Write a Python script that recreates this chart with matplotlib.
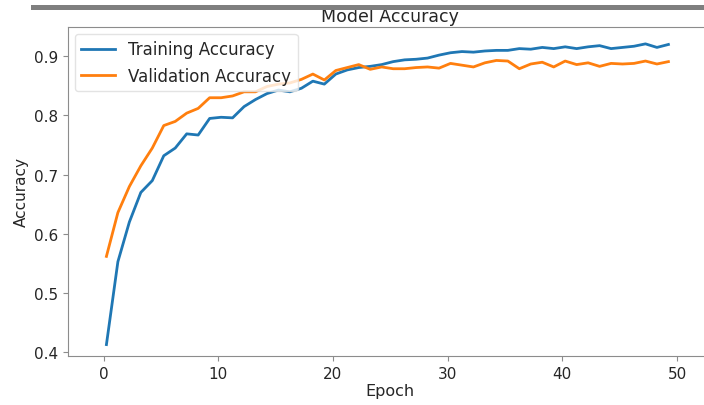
import matplotlib
matplotlib.use("Agg")
import matplotlib.pyplot as plt
from matplotlib.patches import Rectangle
import numpy as np

# --- Data ---
epochs = np.arange(50) + 0.25

train_acc = [0.413, 0.553, 0.620, 0.670, 0.690, 0.732, 0.745, 0.769, 0.767, 0.795,
             0.797, 0.796, 0.815, 0.827, 0.837, 0.843, 0.840, 0.846, 0.858, 0.853,
             0.870, 0.877, 0.881, 0.883, 0.886, 0.891, 0.894, 0.895, 0.897, 0.902,
             0.906, 0.908, 0.907, 0.909, 0.910, 0.910, 0.913, 0.912, 0.915, 0.913,
             0.916, 0.913, 0.916, 0.918, 0.913, 0.915, 0.917, 0.921, 0.915, 0.920]

val_acc = [0.562, 0.636, 0.680, 0.715, 0.745, 0.783, 0.790, 0.804, 0.812, 0.830,
           0.830, 0.833, 0.840, 0.840, 0.849, 0.853, 0.855, 0.861, 0.870, 0.860,
           0.876, 0.881, 0.886, 0.878, 0.882, 0.879, 0.879, 0.881, 0.882, 0.880,
           0.888, 0.885, 0.882, 0.889, 0.893, 0.892, 0.879, 0.887, 0.890, 0.882,
           0.892, 0.886, 0.889, 0.883, 0.888, 0.887, 0.888, 0.892, 0.887, 0.891]

x_ticks = [0, 10, 20, 30, 40, 50]
y_ticks = [0.4, 0.5, 0.6, 0.7, 0.8, 0.9]

# --- Plot ---
text_col = "#262626"
spine_col = "#8c8c8c"

fig = plt.figure(figsize=(7.04, 4.06), dpi=100)
# axes runs a little past the right edge (right spine is cut off in the reference)
ax = fig.add_axes([68 / 704, 49 / 406, 644 / 704, 329 / 406])

ax.plot(epochs, train_acc, color="#1f77b4", lw=2.0, label="Training Accuracy")
ax.plot(epochs, val_acc, color="#ff7f0e", lw=2.0, label="Validation Accuracy")

ax.set_xlim(-3.1, 53.05)
ax.set_ylim(0.3937, 0.9495)
ax.set_xticks(x_ticks)
ax.set_yticks(y_ticks)
ax.set_yticklabels([f"{v:.1f}" for v in y_ticks])

ax.set_title("Model Accuracy", fontsize=12.5, color=text_col, pad=4)
ax.set_xlabel("Epoch", fontsize=11.5, color=text_col, labelpad=2)
ax.set_ylabel("Accuracy", fontsize=11, color=text_col, labelpad=4)

for side in ["left", "bottom", "top", "right"]:
    ax.spines[side].set_color(spine_col)
ax.tick_params(colors=spine_col, labelcolor=text_col, labelsize=11, length=3.5)

leg = ax.legend(loc="upper left", fontsize=12, borderaxespad=0.4,
                handlelength=2.0, frameon=True)
leg.get_frame().set_edgecolor("#dddddd")
for t in leg.get_texts():
    t.set_color(text_col)

# gray screenshot bar across the top
fig.add_artist(Rectangle((31 / 704, 395 / 406), 1 - 31 / 704, 5 / 406,
                         transform=fig.transFigure, color="#7f7f7f", lw=0))

fig.savefig("out.png", dpi=100)
